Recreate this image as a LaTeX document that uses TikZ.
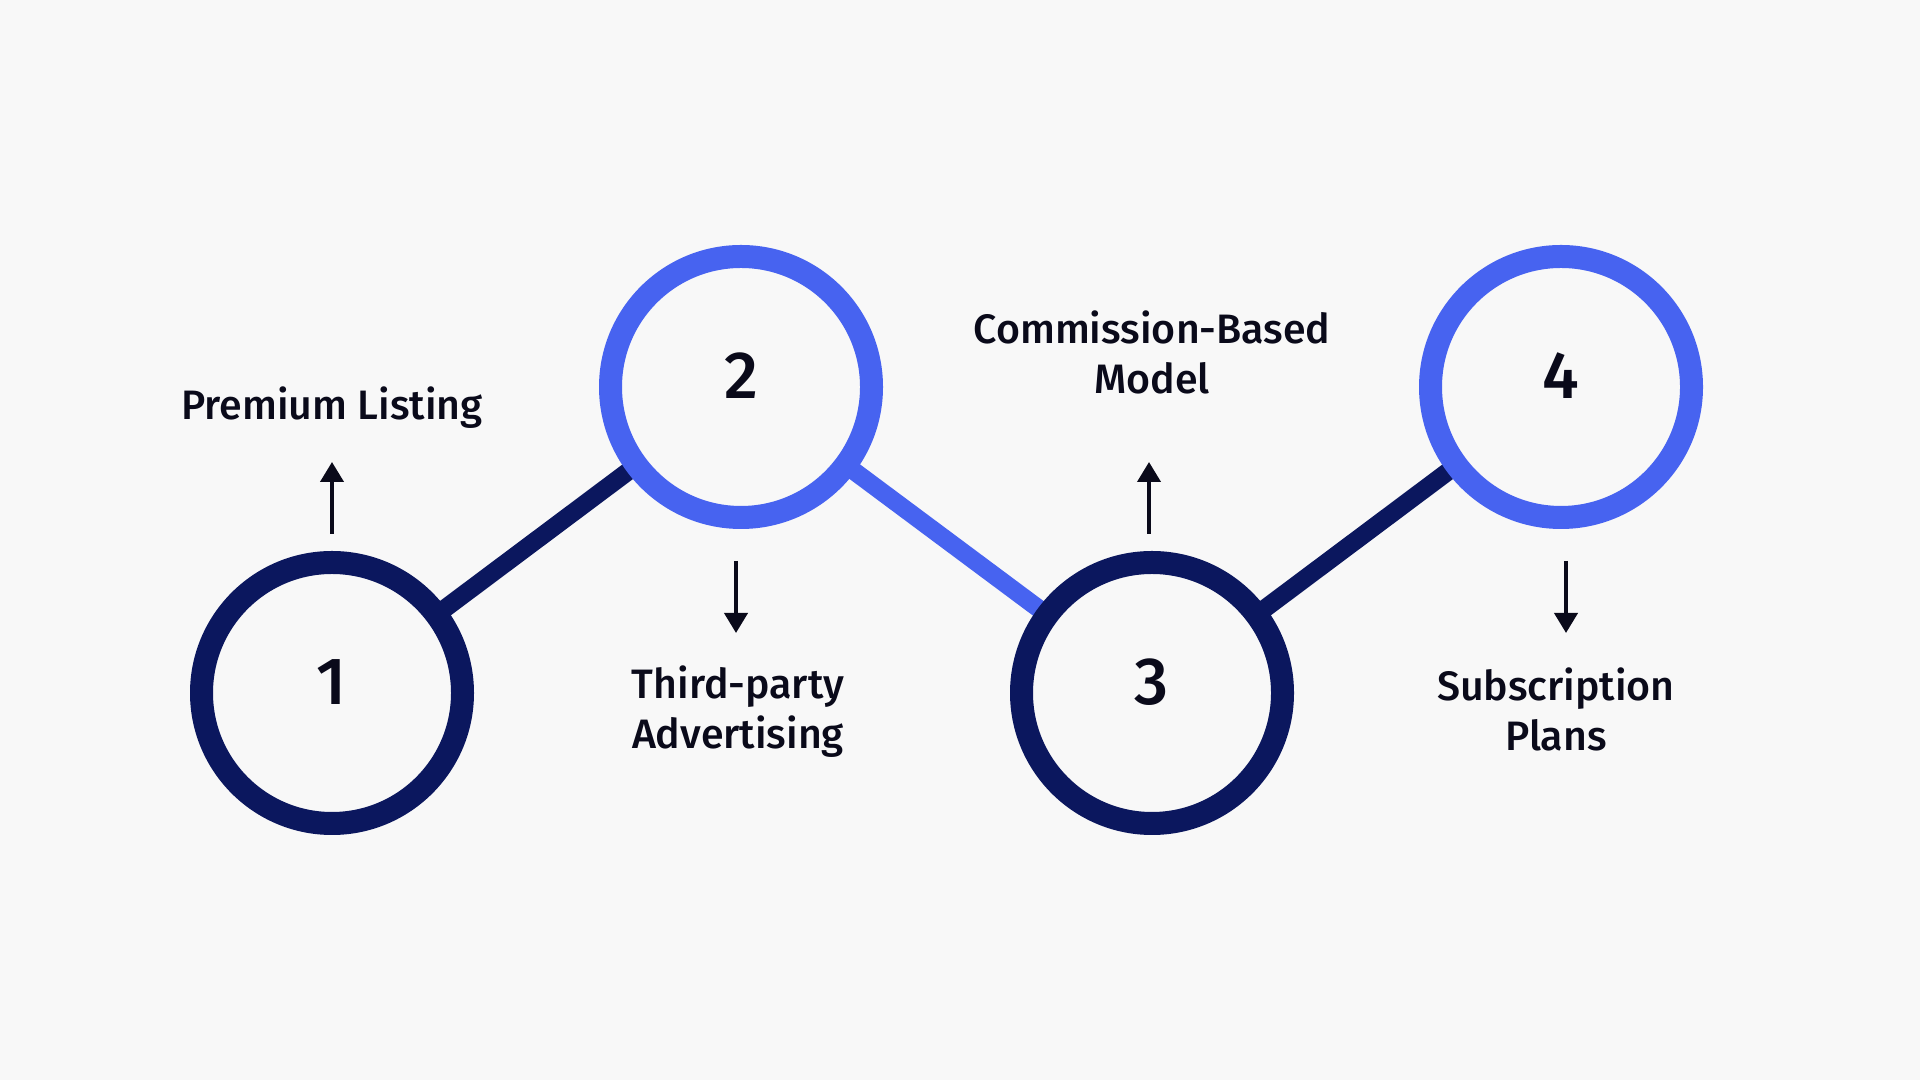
\documentclass[tikz,border=0pt]{standalone}
\usepackage{fontspec}
\setmainfont{Fira Sans}[BoldFont={* Medium}, FontFace={b}{n}{Font={* Bold}}]
\usepackage{xcolor}
\definecolor{rmnavy}{HTML}{0B175E}
\definecolor{rmblue}{HTML}{4763F0}
\definecolor{rmpaper}{HTML}{F8F8F8}
\definecolor{rmink}{HTML}{0A0A1A}
\usepackage{tikz}
\usetikzlibrary{arrows.meta, positioning}

\begin{document}
\begin{tikzpicture}[
  ring/.style={circle, line width=0.23cm, fill=rmpaper,
    minimum size=2.61cm, inner sep=0pt},
  digit/.style={font=\fontsize{19}{22}\selectfont\fontseries{b}\selectfont,
    text=rmink, yshift=1.1mm},
  link/.style={line width=0.18cm},
  arr/.style={-{Triangle[width=2.3mm,length=2mm]}, line width=0.04cm,
    color=rmink},
  lbl/.style={align=center, text=rmink,
    font=\fontsize{11.7}{14.2}\selectfont\fontseries{m}\bfseries}
]
  \fill[rmpaper] (0,0) rectangle (19.2,10.8);

  % steps
  \coordinate (p1) at (3.32,3.87);
  \coordinate (p2) at (7.41,6.93);
  \coordinate (p3) at (11.52,3.87);
  \coordinate (p4) at (15.61,6.93);

  \draw[link, rmnavy] (p1) -- (p2);
  \draw[link, rmblue] (p2) -- (p3);
  \draw[link, rmnavy] (p3) -- (p4);

  \node[ring, draw=rmnavy, label={[digit]center:1}] (c1) at (p1) {};
  \node[ring, draw=rmblue, label={[digit]center:2}] (c2) at (p2) {};
  \node[ring, draw=rmnavy, label={[digit]center:3}] (c3) at (p3) {};
  \node[ring, draw=rmblue, label={[digit]center:4}] (c4) at (p4) {};

  % revenue streams
  \node[lbl, anchor=base] (premium) at (3.32,6.60) {Premium Listing};
  \node[lbl] (ads) at (7.38,3.68) {Third-party\\Advertising};
  \node[lbl] (commission) at (11.52,7.28) {Commission-Based\\Model};
  \node[lbl] (subs) at (15.56,3.71) {Subscription\\Plans};

  \coordinate (a1) at (3.32,5.46);  \coordinate (b1) at (3.32,6.18);
  \coordinate (a2) at (7.36,5.19);  \coordinate (b2) at (7.36,4.47);
  \coordinate (a3) at (11.49,5.46); \coordinate (b3) at (11.49,6.18);
  \coordinate (a4) at (15.66,5.19); \coordinate (b4) at (15.66,4.47);

  \draw[arr] (a1) -- (b1);
  \draw[arr] (a2) -- (b2);
  \draw[arr] (a3) -- (b3);
  \draw[arr] (a4) -- (b4);
\end{tikzpicture}
\end{document}
